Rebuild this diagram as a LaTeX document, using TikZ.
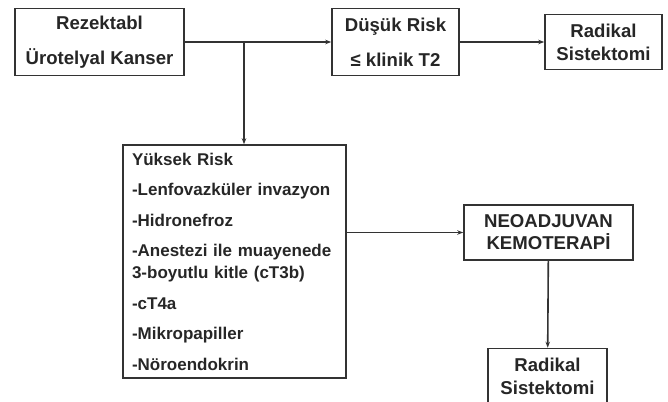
\documentclass[tikz,border=0pt]{standalone}
\usepackage{fontspec}
\setmainfont{Liberation Sans}
\usetikzlibrary{arrows.meta}
\begin{document}
\begin{tikzpicture}[
  x=1pt, y=-1pt, line width=1.6pt, >={Stealth[length=6pt,width=4.5pt]},
  box/.style={draw=black!80, text=black!85, align=center, font=\bfseries\fontsize{18.6}{23}\selectfont, inner sep=0pt}
]
\useasboundingbox (0,0) rectangle (668,401);
\node[box, minimum width=169pt, minimum height=67pt, font=\bfseries\fontsize{18.6}{35}\selectfont] (rez) at (99.5,42) {Rezektabl\\Ürotelyal Kanser};
\node[box, minimum width=127pt, minimum height=67pt, font=\bfseries\fontsize{18.6}{35}\selectfont] (low) at (395.5,42) {Düşük Risk\\≤ klinik T2};
\node[box, minimum width=117pt, minimum height=55pt] (rad1) at (603.5,42) {Radikal\\Sistektomi};
\node[box, minimum width=223pt, minimum height=233pt, text width=205pt, align=left, font=\bfseries\fontsize{17}{22}\selectfont] (hr) at (234.5,261.5) {Yüksek Risk\\[8.5pt]-Lenfovazküler invazyon\\[8.5pt]-Hidronefroz\\[8.5pt]-Anestezi ile muayenede\\3-boyutlu kitle (cT3b)\\[8.5pt]-cT4a\\[8.5pt]-Mikropapiller\\[8.5pt]-Nöroendokrin};
\node[box, minimum width=169pt, minimum height=55pt, font=\bfseries\fontsize{18.6}{22}\selectfont] (neo) at (548.5,232.5) {NEOADJUVAN\\KEMOTERAPİ};
\node[box, minimum width=119pt, minimum height=55pt] (rad2) at (547.5,376) {Radikal\\Sistektomi};
\coordinate (split) at (244,42);

\draw[->, draw=black!80] (rez) -- (low);
\draw[->, draw=black!80] (low) -- (rad1.west |- low.east);
\draw[->, draw=black!80] (split) -- (split |- hr.north);
\draw[->, draw=black!80] (hr.east |- neo.west) -- (neo.west);
\draw[->, draw=black!80] (neo) -- (rad2);
\end{tikzpicture}
\end{document}
